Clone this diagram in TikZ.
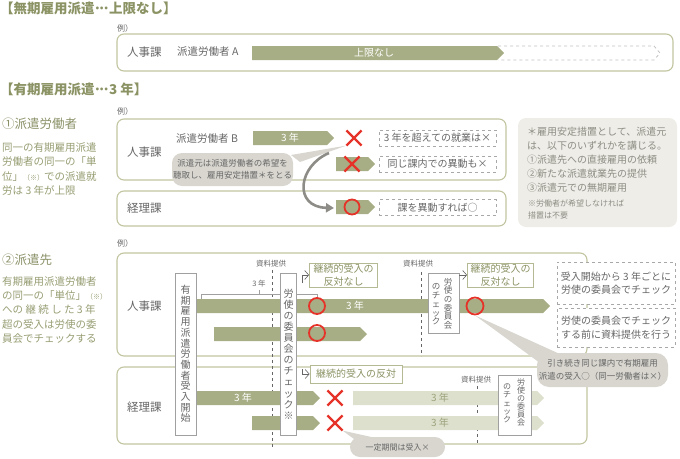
\documentclass[tikz,border=0pt]{standalone}
\usepackage{fontspec}
\setmainfont{Noto Sans CJK JP}
\usepackage{tikz}
\usetikzlibrary{positioning, calc, arrows.meta, shapes.misc}
\definecolor{HeadOlive}{HTML}{8B9364}
\definecolor{DescOlive}{HTML}{979D72}
\definecolor{BarOlive}{HTML}{A7AE85}
\definecolor{BarPale}{HTML}{DDE0CD}
\definecolor{PaleTxt}{HTML}{9BA27A}
\definecolor{BoxLine}{HTML}{C2C5A0}
\definecolor{KeepLine}{HTML}{B5BA95}
\definecolor{TxtGray}{HTML}{666666}
\definecolor{VGray}{HTML}{A0A0A0}
\definecolor{DashGray}{HTML}{A8A8A8}
\definecolor{MarkRed}{HTML}{E63329}
\definecolor{BubbleGray}{HTML}{D8D6CF}
\definecolor{NoteFill}{HTML}{EEEDE7}
\definecolor{NoteTxt}{HTML}{8D8D85}
\definecolor{TurnGray}{HTML}{8E8C86}

\tikzset{
  headtxt/.style={inner sep=0, anchor=west, text=HeadOlive, font=\fontsize{13.5}{14}\selectfont\bfseries},
  subtxt/.style={inner sep=0, anchor=west, text=HeadOlive!90!gray, font=\fontsize{12.5}{13}\selectfont},
  desctxt/.style={inner sep=0, anchor=west, align=left, text=DescOlive, font=\fontsize{10.5}{14.2}\selectfont},
  smalltxt/.style={inner sep=0, anchor=west, text=TxtGray, font=\fontsize{8}{9}\selectfont},
  tinytxt/.style={inner sep=0, text=TxtGray, font=\fontsize{7.5}{8}\selectfont},
  depttxt/.style={inner sep=0, anchor=west, text=TxtGray, font=\fontsize{11.5}{12}\selectfont},
  bodytxt/.style={inner sep=0, anchor=west, text=TxtGray, font=\fontsize{10.5}{11}\selectfont},
  bartxt/.style={inner sep=0, text=white, font=\fontsize{10}{11}\selectfont},
  paletxt/.style={inner sep=0, text=PaleTxt, font=\fontsize{10}{11}\selectfont},
  deptbox/.style={draw=BoxLine, line width=1.1pt, rounded corners=7pt},
  ghost/.style={draw=DashGray!70, dashed, line width=0.8pt},
  guide/.style={draw=TxtGray, dashed, line width=0.6pt},
  bracket/.style={draw=VGray, line width=0.6pt},
  dashnote/.style={draw=DashGray, dashed, line width=0.6pt, fill=white, inner sep=0, align=center,
    text=TxtGray, font=\fontsize{10}{13.5}\selectfont},
  keepbox/.style={draw=KeepLine, line width=0.8pt, fill=white, inner sep=0, align=center,
    text=HeadOlive, font=\fontsize{10}{12.5}\selectfont},
  vbox/.style={draw=VGray, line width=0.8pt, fill=white, inner sep=0, align=center, text=TxtGray},
  vcol/.style={inner sep=0, align=center, text=TxtGray},
  bubble/.style={fill=BubbleGray, rounded corners=10pt, inner sep=0, align=center, text=TxtGray},
  nomark/.style={cross out, draw=MarkRed, line width=2.2pt, minimum size=13pt, inner sep=0},
  okring/.style={circle, draw=MarkRed, line width=1.8pt, minimum size=16pt, inner sep=0},
  openarrow/.style={draw=TxtGray, line width=0.6pt, -{Straight Barb[length=4pt, width=9pt]}},
  turnarrow/.style={draw=TurnGray, line width=2.6pt, -{Triangle[length=8pt, width=9pt]}}
}

%% bar with a pointed end, 14 high: [colour]{x}{top y}{length}
\newcommand{\olivebar}[4][BarOlive]{\fill[#1] (#2,#3) -- ++(#4,0) -- ++(7,7) -- ++(-7,7) -- ++(-#4,0) -- cycle;}
%% ellipsis at mid height
\newcommand{\middot}{\makebox[0pt][c]{·}}
\newcommand{\midellip}{\kern.2em\middot\kern.33em\middot\kern.33em\middot\kern.2em}

\begin{document}
\begin{tikzpicture}[x=1pt, y=-1pt]
  \useasboundingbox (0,0) rectangle (680,458);

  %% Unlimited dispatch
  \node[headtxt] (hd1) at (0,8.5) {【無期雇用派遣\midellip 上限なし】};
  \node[smalltxt] (ex1) at (117,28) {例）};
  \draw[deptbox] (117,34) rectangle (673,71);
  \node[depttxt] (hr1) at (127,52) {人事課};
  \node[bodytxt] (wka) at (177,52) {派遣労働者 A};
  \draw[ghost] (498,46) -- (654,46) -- (660,53) -- (654,60) -- (498,60);
  \olivebar{252}{46}{245}
  \node[bartxt] (lim) at (374,53) {上限なし};

  %% Fixed-term dispatch, worker unit
  \node[headtxt] (hd2) at (0,89) {【有期雇用派遣\midellip 3 年】};
  \node[subtxt] (sub1) at (2,124) {①派遣労働者};
  \node[desctxt] (desc1) at (2,169) {同一の有期雇用派遣\\労働者の同一の「単\\位」{\fontsize{7}{7}\selectfont（※）}での派遣就\\労は 3 年が上限};
  \node[smalltxt] (ex2) at (117,111) {例）};
  \draw[deptbox] (117,119) rectangle (506,180);
  \draw[deptbox] (117,191) rectangle (506,226);
  \node[depttxt] (hr2) at (127,152) {人事課};
  \node[depttxt] (acc2) at (127,208) {経理課};
  \node[bodytxt] (wkb) at (176,139) {派遣労働者 B};
  \olivebar{253}{131}{74}
  \node[bartxt] (yb) at (290,138) {3 年};
  \node[nomark] (x1) at (354,138) {};
  \node[dashnote, minimum width=117pt, minimum height=16pt] (nt1) at (437.5,138) {3 年を超えての就業は×};
  \olivebar{336}{157}{32}
  \node[nomark] (x2) at (352,164) {};
  \node[dashnote, minimum width=117pt, minimum height=16pt] (nt2) at (437.5,164) {同じ課内での異動も×};
  \olivebar{336}{200}{32}
  \node[okring, minimum size=15pt] (ok0) at (352,207) {};
  \node[dashnote, minimum width=117pt, minimum height=16pt] (nt3) at (437.5,207.5) {課を異動すれば○};
  %% hearing callout
  \fill[BubbleGray] (291,155) -- (x1.south west) -- (300,162) -- cycle;
  \node[bubble, minimum width=121pt, minimum height=33pt, font=\fontsize{8.5}{12.5}\selectfont] (co1) at (232.5,169.5)
    {派遣元は派遣労働者の希望を\\聴取し、雇用安定措置＊をとる};
  \coordinate (ts) at (329,153);
  \coordinate (te) at (334,208);
  \draw[turnarrow] (ts) .. controls (298,166) and (293,207) .. (te);
  %% side note
  \node[fill=NoteFill, rounded corners=8pt, minimum width=159pt, minimum height=109pt] (nb) at (597.5,172.5) {};
  \node[inner sep=0, anchor=west, align=left, text=NoteTxt, font=\fontsize{10}{14}\selectfont] (nbt) at (527,160)
    {＊雇用安定措置として、派遣元\\は、以下のいずれかを講じる。\\①派遣先への直接雇用の依頼\\②新たな派遣就業先の提供\\③派遣元での無期雇用};
  \node[inner sep=0, anchor=west, align=left, text=NoteTxt, font=\fontsize{8}{12}\selectfont] (nbs) at (528,209)
    {※労働者が希望しなければ\\措置は不要};

  %% Fixed-term dispatch, client unit
  \node[subtxt] (sub2) at (2,260) {②派遣先};
  \node[desctxt] (desc2) at (2,310) {有期雇用派遣労働者\\の同一の「単位」{\fontsize{7}{7}\selectfont（※）}\\への 継 続 し た 3 年\\超の受入は労使の委\\員会でチェックする};
  \node[smalltxt] (ex3) at (117,243) {例）};
  \draw[deptbox] (117,253) rectangle (587,356);
  \draw[deptbox] (117,367) rectangle (587,444);
  \node[depttxt] (hr3) at (127,306) {人事課};
  \node[depttxt] (acc3) at (127,407) {経理課};
  %% document hand-over marks
  \node[tinytxt] (doc1) at (271,264) {資料提供};
  \node[tinytxt] (doc2) at (418,264) {資料提供};
  \node[tinytxt] (doc3) at (476,380) {資料提供};
  \draw[guide] (272.5,270) -- (272.5,447);
  \draw[guide] (421,272) -- (421,356);
  \draw[guide] (477,386) -- (477,445);
  \draw[bracket] (201,299) -- (201,294) -- (317,294) -- (317,299) (259,294) -- (259,290);
  \node[tinytxt] (y3) at (259,284) {3 年};
  %% bars
  \olivebar{196}{299}{347}
  \node[bartxt] (yu1) at (355,306) {3 年};
  \olivebar{214}{327}{146}
  \olivebar{196}{391}{117}
  \node[bartxt] (yl1) at (243,398) {3 年};
  \olivebar{252}{416}{61}
  \olivebar[BarPale]{353}{391}{184}
  \olivebar[BarPale]{353}{416}{184}
  \node[paletxt] (yp1) at (440,398) {3 年};
  \node[paletxt] (yp2) at (440,423) {3 年};
  %% vertical boxes
  \node[vbox, minimum width=21pt, minimum height=162pt, font=\fontsize{10}{10.7}\selectfont] (vb1) at (185.5,354)
    {有\\期\\雇\\用\\派\\遣\\労\\働\\者\\受\\入\\開\\始};
  \node[vbox, minimum width=16pt, minimum height=162pt, font=\fontsize{10}{11.1}\selectfont] (vb2) at (288.5,354)
    {労\\使\\の\\委\\員\\会\\の\\チ\\ェ\\ッ\\ク\\※};
  \node[vbox, minimum width=31pt, minimum height=60pt] (vb3) at (443.5,303) {};
  \node[vcol, font=\fontsize{8.5}{8.6}\selectfont] (vb3r) at (448,303.5) {労\\使\\の\\委\\員\\会};
  \node[vcol, font=\fontsize{8.5}{8.75}\selectfont] (vb3l) at (436,304.5) {の\\チ\\ェ\\ッ\\ク};
  \node[vbox, minimum width=33pt, minimum height=60pt] (vb4) at (514.5,405) {};
  \node[vcol, font=\fontsize{8}{8}\selectfont] (vb4r) at (521,402.5) {労\\使\\の\\委\\員\\会};
  \node[vcol, font=\fontsize{8}{8.25}\selectfont] (vb4l) at (507,403.5) {の\\チ\\ェ\\ッ\\ク};
  %% verdicts
  \node[okring] (ok1) at (317,306) {};
  \node[okring] (ok2) at (317,333) {};
  \node[okring, minimum size=17pt] (ok3) at (475,306) {};
  \node[nomark] (x3) at (335,398) {};
  \node[nomark] (x4) at (335,423) {};
  \node[keepbox, minimum width=68pt, minimum height=24pt] (kb1) at (343.5,275) {継続的受入の\\反対なし};
  \node[keepbox, minimum width=66pt, minimum height=24pt] (kb2) at (500.5,275) {継続的受入の\\反対なし};
  \node[keepbox, minimum width=92pt, minimum height=18pt] (kb3) at (356,374) {継続的受入の反対};
  \draw[openarrow] (302,283) |- (kb1.west);
  \draw[openarrow] (vb3.east |- kb2.west) -- (kb2.west);
  \draw[openarrow] (302,369) |- (kb3.west);
  %% rule notes
  \node[dashnote, minimum width=118pt, minimum height=42pt] (rn1) at (616,283) {受入開始から 3 年ごとに\\労使の委員会でチェック};
  \node[dashnote, minimum width=118pt, minimum height=39pt] (rn2) at (616,327.5) {労使の委員会でチェック\\する前に資料提供を行う};
  %% callouts
  \fill[BubbleGray] (ok3.south) -- (562,355) -- (540,363) -- cycle;
  \node[bubble, minimum width=131pt, minimum height=34pt, rounded corners=12pt, font=\fontsize{8.5}{12.5}\selectfont] (co2) at (602.5,370)
    {引き続き同じ課内で有期雇用\\派遣の受入○（同一労働者は×）};
  \fill[BubbleGray] (x4.south east) -- (385,440) -- (358,442) -- cycle;
  \node[bubble, minimum width=95pt, minimum height=20pt, font=\fontsize{8}{9}\selectfont] (co3) at (397.5,447) {一定期間は受入×};
\end{tikzpicture}
\end{document}
